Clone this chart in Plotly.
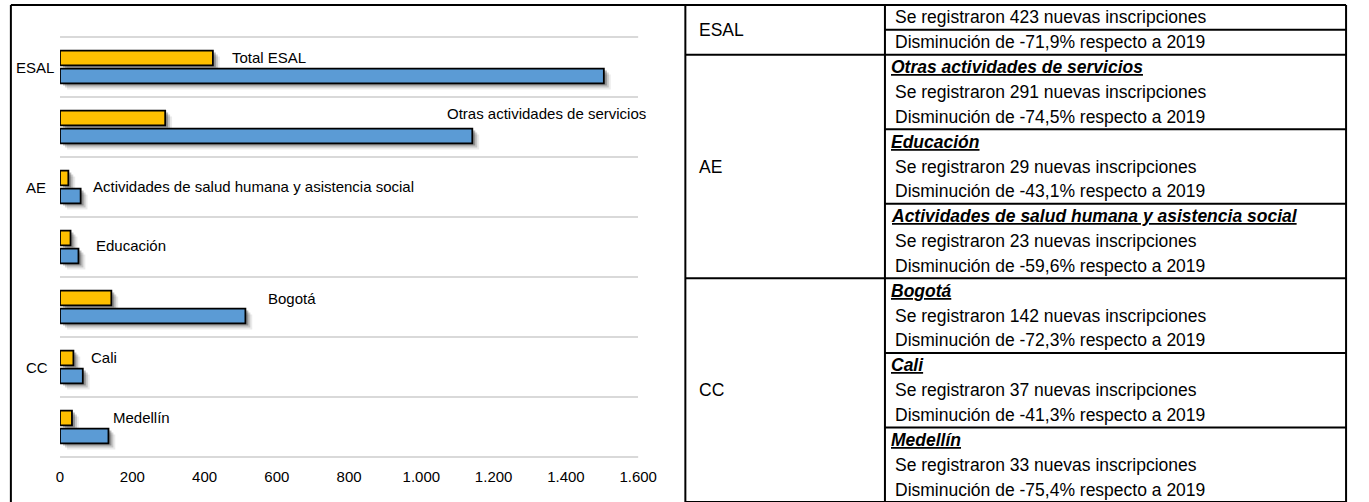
import plotly.graph_objects as go

W, H = 1369, 502

# ---------------- data ----------------
categories = ["Total ESAL", "Otras actividades de servicios",
              "Actividades de salud humana y asistencia social", "Educación",
              "Bogotá", "Cali", "Medellín"]
values_2020 = [423, 291, 23, 29, 142, 37, 33]
values_2019 = [1505, 1141, 57, 51, 513, 63, 134]
x_ticks = [0, 200, 400, 600, 800, 1000, 1200, 1400, 1600]

group_names = ["ESAL", "AE", "CC"]
group_anchor = ["Total ESAL", "Actividades de salud humana y asistencia social", "Cali"]

table_groups = ["ESAL", "AE", "CC"]
table_group_items = [[None],
                     ["Otras actividades de servicios", "Educación",
                      "Actividades de salud humana y asistencia social"],
                     ["Bogotá", "Cali", "Medellín"]]
table_new = {"ESAL": 423, "Otras actividades de servicios": 291, "Educación": 29,
             "Actividades de salud humana y asistencia social": 23,
             "Bogotá": 142, "Cali": 37, "Medellín": 33}
table_change = {"ESAL": "-71,9%", "Otras actividades de servicios": "-74,5%",
                "Educación": "-43,1%",
                "Actividades de salud humana y asistencia social": "-59,6%",
                "Bogotá": "-72,3%", "Cali": "-41,3%", "Medellín": "-75,4%"}

# ---------------- styling / layout helpers ----------------
FONT = "Liberation Sans, Arial, sans-serif"
YELLOW = "#FFC000"
BLUE = "#5B9BD5"
GRID = "#d9d9d9"


def px(x):
    return x / W


def py(y):
    return 1 - y / H


X0, X1 = 57, 645          # pixel extent of plot area
Y0, Y1 = 37, 457

fig = go.Figure()

# soft drop-shadow layers (drawn first, on lower subplots)
shadow_layers = [(7, 6, 0.08), (5, 4, 0.16), (3, 2, 0.28)]
n_layers = len(shadow_layers) + 1
for i, (dx, dy, op) in enumerate(shadow_layers):
    k = "" if i == 0 else str(i + 1)
    for vals in (values_2020, values_2019):
        fig.add_trace(go.Bar(y=categories, x=vals, orientation="h",
                             marker=dict(color=f"rgba(0,0,0,{op})", line=dict(width=0)),
                             xaxis="x" + k, yaxis="y" + k, showlegend=False,
                             hoverinfo="skip"))
    fig.layout["xaxis" + k] = dict(domain=[px(X0 + dx), px(X1 + dx)], range=[0, 1600],
                                   visible=False, anchor="y" + k)
    fig.layout["yaxis" + k] = dict(domain=[py(Y1 + dy), py(Y0 + dy)], type="category",
                                   categoryorder="array", categoryarray=categories,
                                   autorange="reversed", visible=False, anchor="x" + k)

mk = str(n_layers)
fig.add_trace(go.Bar(y=categories, x=values_2020, orientation="h", name="2020",
                     marker=dict(color=YELLOW, line=dict(color="black", width=1.8)),
                     xaxis="x" + mk, yaxis="y" + mk))
fig.add_trace(go.Bar(y=categories, x=values_2019, orientation="h", name="2019",
                     marker=dict(color=BLUE, line=dict(color="black", width=1.8)),
                     xaxis="x" + mk, yaxis="y" + mk))
fig.layout["xaxis" + mk] = dict(domain=[px(X0), px(X1)], range=[0, 1600],
                                tickvals=x_ticks, tickformat=",d", showgrid=False,
                                zeroline=False, showline=False, ticks="",
                                ticklabelstandoff=9,
                                tickfont=dict(family=FONT, size=15, color="black"),
                                anchor="y" + mk)
fig.layout["yaxis" + mk] = dict(domain=[py(Y1), py(Y0)], type="category",
                                categoryorder="array", categoryarray=categories,
                                autorange="reversed", tickson="boundaries",
                                showgrid=True, gridcolor=GRID, gridwidth=2,
                                showticklabels=False, ticks="", zeroline=False,
                                showline=False, anchor="x" + mk)

shapes = []
# outer gridlines (top and bottom of the plot area)
for yd in (0, 1):
    shapes.append(dict(type="line", xref=f"x{mk} domain", yref=f"y{mk} domain",
                       x0=0, x1=1, y0=yd, y1=yd, line=dict(color=GRID, width=2),
                       layer="below"))

annotations = []
# labels next to the bars: (category, x data position, xanchor, xshift px, yshift px)
label_pos = [("Total ESAL", 470, "left", 0, 10),
             ("Otras actividades de servicios", 1599, "right", 10, 14),
             ("Actividades de salud humana y asistencia social", 87, "left", 0, 1),
             ("Educación", 95, "left", 0, 2),
             ("Bogotá", 571, "left", 0, 9),
             ("Cali", 79, "left", 0, 10),
             ("Medellín", 141, "left", 0, 10)]
for cat, xv, xa, xs, ys in label_pos:
    annotations.append(dict(text=cat, x=xv, y=cat, xref="x" + mk, yref="y" + mk,
                            xanchor=xa, yanchor="middle", xshift=xs, yshift=ys,
                            showarrow=False,
                            font=dict(family=FONT, size=15, color="black")))

group_x = {"ESAL": 10, "AE": 20, "CC": 20}
for g, cat in zip(group_names, group_anchor):
    annotations.append(dict(text=g, x=px(group_x[g]), y=cat, xref="paper", yref="y" + mk,
                            xanchor="left", yanchor="middle", showarrow=False,
                            font=dict(family=FONT, size=15, color="black")))

# ---------------- table ----------------
LINE = dict(color="black", width=2)
T_L, T_D, T_R = 693, 896, 1365
TOP = 5
ROW = (H - TOP) / 20.0


def hline(x0, x1, y):
    shapes.append(dict(type="line", xref="paper", yref="paper", x0=px(x0), x1=px(x1),
                       y0=py(y), y1=py(y), line=LINE))


def vline(x, y0, y1):
    shapes.append(dict(type="line", xref="paper", yref="paper", x0=px(x), x1=px(x),
                       y0=py(y0), y1=py(y1), line=LINE))


# chart frame
hline(7, T_R, TOP)
vline(7, TOP, H + 5)
vline(T_L, TOP, H + 5)
vline(T_D, TOP, H + 5)
vline(T_R, TOP, H + 5)

TFONT = dict(family=FONT, size=17.5, color="black")


def tline(text, x, y, font=TFONT):
    annotations.append(dict(text=text, x=px(x), y=py(y), xref="paper", yref="paper",
                            xanchor="left", yanchor="middle", showarrow=False, font=font))


r = 0
for g, items in zip(table_groups, table_group_items):
    g_start = r
    for j, item in enumerate(items):
        key = g if item is None else item
        if item is not None:
            tline(f"<b><i><u>{item}</u></i></b>", 900, TOP + (r + 0.5) * ROW)
            r += 1
        tline(f"Se registraron {table_new[key]} nuevas inscripciones", 904,
              TOP + (r + 0.5) * ROW)
        if item is None:
            hline(T_D, T_R, TOP + (r + 1) * ROW)
        r += 1
        tline(f"Disminución de {table_change[key]} respecto a 2019", 904,
              TOP + (r + 0.5) * ROW)
        r += 1
        if j < len(items) - 1:
            hline(T_D, T_R, TOP + r * ROW)
    tline(g, 705, TOP + (g_start + r) / 2 * ROW)
    hline(T_L, T_R, TOP + r * ROW)

fig.update_layout(width=W, height=H, margin=dict(l=0, r=0, t=0, b=0),
                  paper_bgcolor="white", plot_bgcolor="rgba(0,0,0,0)",
                  barmode="group", bargap=0.4, bargroupgap=0.17,
                  separators=",.", showlegend=False,
                  annotations=annotations, shapes=shapes,
                  font=dict(family=FONT, size=15, color="black"))

fig.write_html("out.html", config={"displayModeBar": False},
               post_script="document.body.style.margin='0px';"
                           "document.body.style.overflow='hidden';")
